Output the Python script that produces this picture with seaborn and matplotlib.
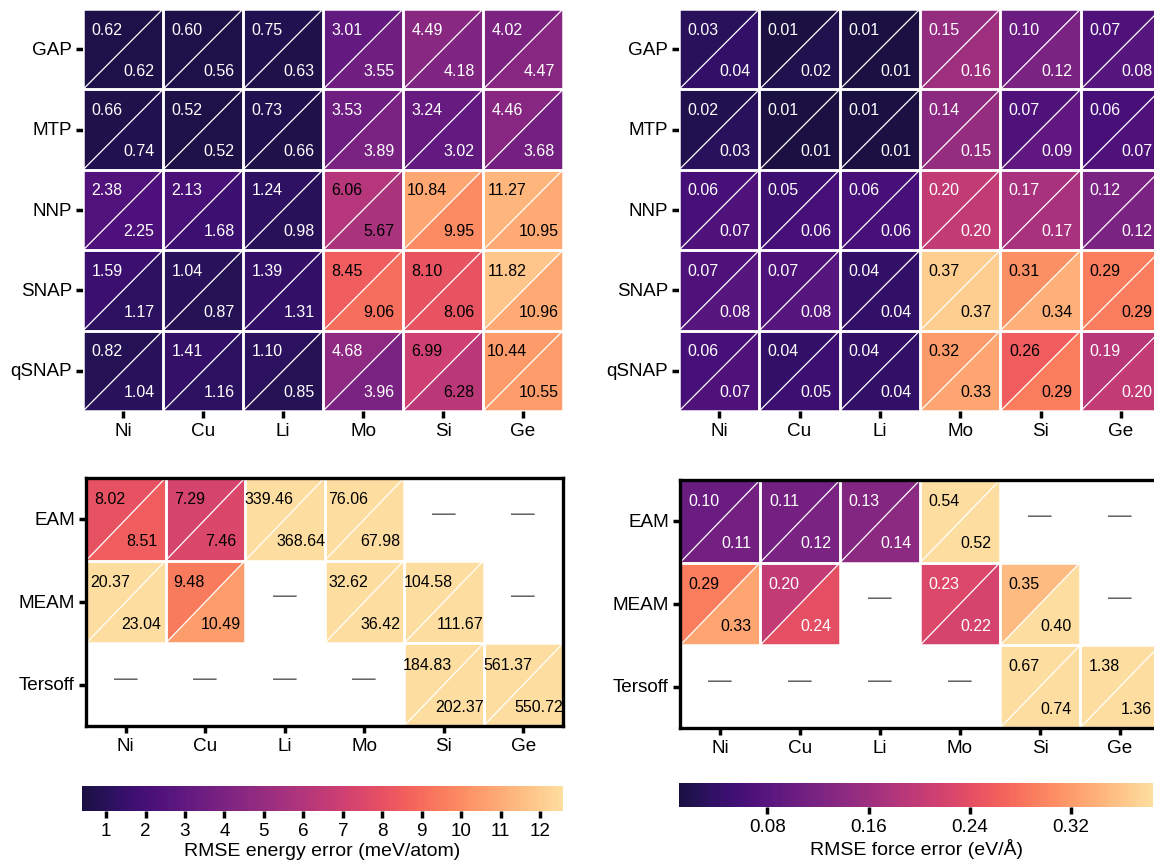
import numpy as np
import pandas as pd
import seaborn as sns
import matplotlib.pyplot as plt
from matplotlib.colors import ListedColormap, Normalize
from matplotlib.patches import Polygon

sns.set_style("white")
plt.rcParams["font.family"] = ["Liberation Sans", "DejaVu Sans"]
plt.rcParams["text.color"] = "black"
plt.rcParams["axes.labelcolor"] = "black"
plt.rcParams["xtick.color"] = "black"
plt.rcParams["ytick.color"] = "black"

elements = ["Ni", "Cu", "Li", "Mo", "Si", "Ge"]
ml_models = ["GAP", "MTP", "NNP", "SNAP", "qSNAP"]
classical_models = ["EAM", "MEAM", "Tersoff"]
nan = np.nan

# RMSE energy (meV/atom), training (upper-left) and test (lower-right)
ml_energy_train = [[0.62, 0.60, 0.75, 3.01, 4.49, 4.02],
                   [0.66, 0.52, 0.73, 3.53, 3.24, 4.46],
                   [2.38, 2.13, 1.24, 6.06, 10.84, 11.27],
                   [1.59, 1.04, 1.39, 8.45, 8.10, 11.82],
                   [0.82, 1.41, 1.10, 4.68, 6.99, 10.44]]
ml_energy_test = [[0.62, 0.56, 0.63, 3.55, 4.18, 4.47],
                  [0.74, 0.52, 0.66, 3.89, 3.02, 3.68],
                  [2.25, 1.68, 0.98, 5.67, 9.95, 10.95],
                  [1.17, 0.87, 1.31, 9.06, 8.06, 10.96],
                  [1.04, 1.16, 0.85, 3.96, 6.28, 10.55]]
cl_energy_train = [[8.02, 7.29, 339.46, 76.06, nan, nan],
                   [20.37, 9.48, nan, 32.62, 104.58, nan],
                   [nan, nan, nan, nan, 184.83, 561.37]]
cl_energy_test = [[8.51, 7.46, 368.64, 67.98, nan, nan],
                  [23.04, 10.49, nan, 36.42, 111.67, nan],
                  [nan, nan, nan, nan, 202.37, 550.72]]

# RMSE force (eV/A)
ml_force_train = [[0.03, 0.01, 0.01, 0.15, 0.10, 0.07],
                  [0.02, 0.01, 0.01, 0.14, 0.07, 0.06],
                  [0.06, 0.05, 0.06, 0.20, 0.17, 0.12],
                  [0.07, 0.07, 0.04, 0.37, 0.31, 0.29],
                  [0.06, 0.04, 0.04, 0.32, 0.26, 0.19]]
ml_force_test = [[0.04, 0.02, 0.01, 0.16, 0.12, 0.08],
                 [0.03, 0.01, 0.01, 0.15, 0.09, 0.07],
                 [0.07, 0.06, 0.06, 0.20, 0.17, 0.12],
                 [0.08, 0.08, 0.04, 0.37, 0.34, 0.29],
                 [0.07, 0.05, 0.04, 0.33, 0.29, 0.20]]
cl_force_train = [[0.10, 0.11, 0.13, 0.54, nan, nan],
                  [0.29, 0.20, nan, 0.23, 0.35, nan],
                  [nan, nan, nan, nan, 0.67, 1.38]]
cl_force_test = [[0.11, 0.12, 0.14, 0.52, nan, nan],
                 [0.33, 0.24, nan, 0.22, 0.40, nan],
                 [nan, nan, nan, nan, 0.74, 1.36]]

energy_ticks = list(range(1, 13))
force_ticks = [0.08, 0.16, 0.24, 0.32]

cmap = ListedColormap(plt.get_cmap("magma")(np.linspace(0.12, 0.93, 256)))

W, H = 1154, 862
fig = plt.figure(figsize=(W / 100, H / 100), dpi=100)


def box(l, t, w, h):
    return [l / W, 1 - (t + h) / H, w / W, h / H]


def split_heatmap(ax, train, test, rows, vmin, vmax, dark_cut, cbar_ax=None,
                  cbar_kws=None, frame=False):
    train = pd.DataFrame(train, index=rows, columns=elements)
    test = pd.DataFrame(test, index=rows, columns=elements)
    sns.heatmap(test, ax=ax, cmap=cmap, vmin=vmin, vmax=vmax, linewidths=0,
                cbar=cbar_ax is not None, cbar_ax=cbar_ax, cbar_kws=cbar_kws)
    norm = Normalize(vmin, vmax)
    nr, nc = train.shape
    for i in range(nr):
        for j in range(nc):
            a, b = train.iat[i, j], test.iat[i, j]
            if np.isnan(a):
                ax.text(j + 0.5, i + 0.42, "\u2014", ha="center", va="center",
                        fontsize=17, color="#666666")
                continue
            tri = Polygon([(j, i), (j + 1, i), (j, i + 1)], closed=True,
                          facecolor=cmap(norm(a)), edgecolor="none")
            ax.add_patch(tri)
            ax.plot([j, j + 1], [i + 1, i], color="white", lw=0.9)
            ax.text(j + 0.3, i + 0.25, f"{a:.2f}", ha="center", va="center",
                    fontsize=11.5, color="black" if a > dark_cut else "white")
            ax.text(j + 0.7, i + 0.76, f"{b:.2f}", ha="center", va="center",
                    fontsize=11.5, color="black" if b > dark_cut else "white")
            # white borders around filled cells
            ax.plot([j, j + 1, j + 1, j, j], [i, i, i + 1, i + 1, i],
                    color="white", lw=1.8)
    ax.set_xlabel("")
    ax.set_ylabel("")
    ax.set_xticklabels(elements, rotation=0)
    ax.set_yticklabels(rows, rotation=0)
    ax.tick_params(axis="both", length=5, width=2.5, color="black",
                   labelcolor="black", labelsize=13.6, pad=3, bottom=True, left=True)
    for s in ax.spines.values():
        s.set_visible(frame)
        s.set_linewidth(2.4)
        s.set_color("black")


ax_e = fig.add_axes(box(83, 10, 480, 402))
ax_f = fig.add_axes(box(679, 10, 482, 402))
ax_ce = fig.add_axes(box(86, 479, 477, 248))
ax_cf = fig.add_axes(box(680, 481, 480, 248))
cax_e = fig.add_axes(box(82, 787, 481, 25))
cax_f = fig.add_axes(box(679, 784, 474, 24))

e_min, e_max = 0.39, 12.58
f_min, f_max = 0.01, 0.385

split_heatmap(ax_e, ml_energy_train, ml_energy_test, ml_models, e_min, e_max, 5.0,
              cbar_ax=cax_e,
              cbar_kws=dict(orientation="horizontal", ticks=energy_ticks))
split_heatmap(ax_f, ml_force_train, ml_force_test, ml_models, f_min, f_max, 0.25,
              cbar_ax=cax_f,
              cbar_kws=dict(orientation="horizontal", ticks=force_ticks))
split_heatmap(ax_ce, cl_energy_train, cl_energy_test, classical_models,
              e_min, e_max, 5.0, frame=True)
split_heatmap(ax_cf, cl_force_train, cl_force_test, classical_models,
              f_min, f_max, 0.25, frame=True)

for cax, label in [(cax_e, "RMSE energy error (meV/atom)"),
                   (cax_f, "RMSE force error (eV/\u00c5)")]:
    cax.set_xlabel(label, fontsize=14, labelpad=2, color="black")
    cax.tick_params(axis="x", length=5, width=2.5, color="black",
                    labelcolor="black", labelsize=13.6, pad=3)
    for s in cax.spines.values():
        s.set_visible(False)
cax_f.set_xticklabels([f"{t:.2f}" for t in force_ticks])

fig.savefig("out.png", dpi=100)
